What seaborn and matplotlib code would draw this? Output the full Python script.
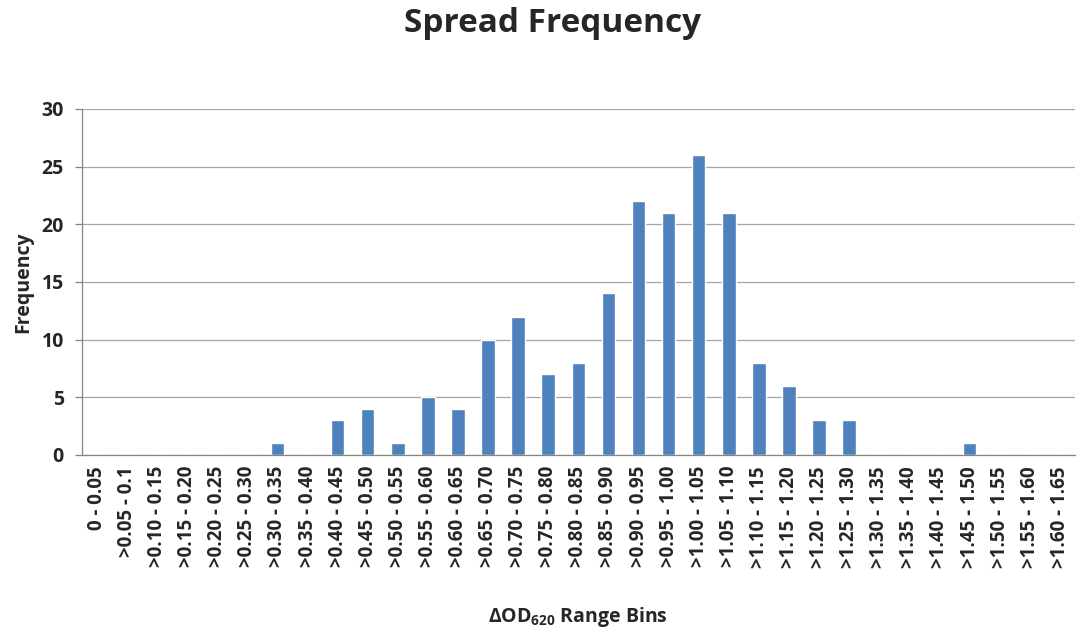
import matplotlib
matplotlib.use("Agg")
import matplotlib.pyplot as plt
import seaborn as sns
import pandas as pd
import numpy as np

categories = ["0 - 0.05", ">0.05 - 0.1", ">0.10 - 0.15", ">0.15 - 0.20", ">0.20 - 0.25",
              ">0.25 - 0.30", ">0.30 - 0.35", ">0.35 - 0.40", ">0.40 - 0.45", ">0.45 - 0.50",
              ">0.50 - 0.55", ">0.55 - 0.60", ">0.60 - 0.65", ">0.65 - 0.70", ">0.70 - 0.75",
              ">0.75 - 0.80", ">0.80 - 0.85", ">0.85 - 0.90", ">0.90 - 0.95", ">0.95 - 1.00",
              ">1.00 - 1.05", ">1.05 - 1.10", ">1.10 - 1.15", ">1.15 - 1.20", ">1.20 - 1.25",
              ">1.25 - 1.30", ">1.30 - 1.35", ">1.35 - 1.40", ">1.40 - 1.45", ">1.45 - 1.50",
              ">1.50 - 1.55", ">1.55 - 1.60", ">1.60 - 1.65"]
frequency = [0, 0, 0, 0, 0, 0, 1, 0, 3, 4, 1, 5, 4, 10, 12, 7, 8, 14, 22, 21,
             26, 21, 8, 6, 3, 3, 0, 0, 0, 1, 0, 0, 0]
y_ticks = [0, 5, 10, 15, 20, 25, 30]

sns.set_theme(style="white")
plt.rcParams['font.family'] = ['Open Sans', 'DejaVu Sans']
plt.rcParams['mathtext.fontset'] = 'custom'
plt.rcParams['mathtext.rm'] = 'Open Sans:bold'
plt.rcParams['mathtext.default'] = 'rm'

df = pd.DataFrame({"bin": categories, "freq": frequency})

fig = plt.figure(figsize=(10.77, 6.3), dpi=100)
ax = fig.add_axes([0.076, 0.278, 0.922, 0.549])
sns.barplot(data=df, x="bin", y="freq", color="#4F81BD", saturation=1,
            width=0.45, ax=ax, zorder=3)

ax.set_ylim(0, 30)
ax.set_xlim(-0.5, len(categories) - 0.5)
ax.set_yticks(y_ticks)
ax.set_yticklabels([str(t) for t in y_ticks], fontsize=14, fontweight='bold')
ax.yaxis.grid(True, color="#A6A6A6", linewidth=0.9, zorder=0)
ax.set_axisbelow(True)

ax.set_xticks(range(len(categories)))
ax.set_xticklabels(categories, rotation=90, fontsize=13.5, fontweight='bold')
ax.tick_params(axis='x', length=0, pad=8)
ax.set_xticks(np.arange(-0.5, len(categories), 1), minor=True)
ax.tick_params(axis='x', which='minor', length=5, color="#868686", width=0.9, direction='out')
ax.tick_params(axis='y', length=5, color="#868686", width=0.9, direction='out', left=True, pad=8)

for s in ['top', 'right']:
    ax.spines[s].set_visible(False)
for s in ['left', 'bottom']:
    ax.spines[s].set_color("#868686")
    ax.spines[s].set_linewidth(0.9)

ax.set_ylabel("Frequency", fontsize=14, fontweight='bold', labelpad=6)
ax.set_xlabel(r"ΔOD$_{620}$ Range Bins", fontsize=14, fontweight='bold', labelpad=27)

fig.text(0.513, 0.962, "Spread Frequency", ha='center', va='center',
         fontsize=24, fontweight='bold')

fig.savefig("out.png", dpi=100)
